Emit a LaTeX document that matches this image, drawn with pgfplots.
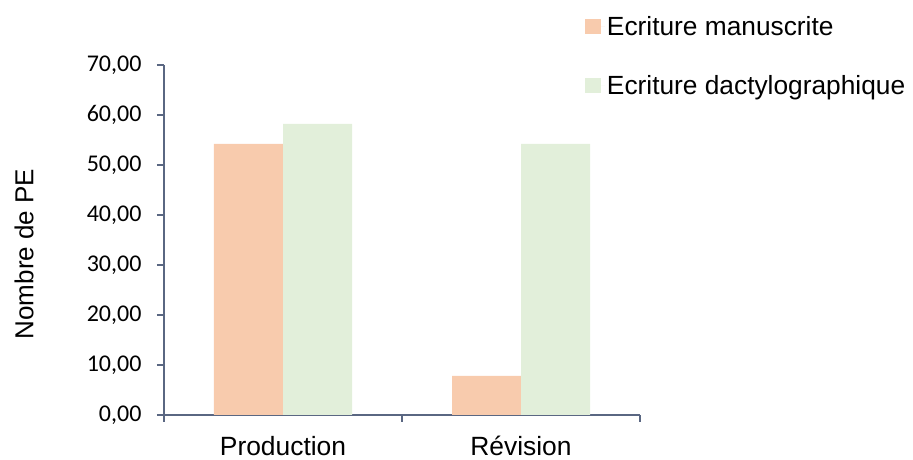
\documentclass[border=0pt]{standalone}
\usepackage{fontspec}
\setmainfont{Liberation Sans}
\newfontfamily\carlito{Carlito}
\usepackage{pgfplots}
\pgfplotsset{compat=1.18}
\definecolor{manu}{HTML}{F8CBAD}
\definecolor{dact}{HTML}{E2EFDA}
\definecolor{axc}{HTML}{5A6782}
\begin{document}
\begin{tikzpicture}[x=1pt,y=1pt]
\path[use as bounding box] (0,0) rectangle (913,460);
\begin{axis}[
  at={(164pt,45pt)}, anchor=south west,
  scale only axis, width=476pt, height=350pt,
  xmin=-0.5, xmax=1.5, ymin=0, ymax=70,
  axis x line*=bottom, axis y line*=left,
  axis line style={draw=axc, line width=1.3pt, -},
  every tick/.style={draw=axc, line width=1.3pt},
  tick align=outside, major tick length=7pt,
  ytick={0,10,...,70},
  xtick={-0.5,0.5,1.5}, xticklabels={},
  extra x ticks={0,1}, extra x tick labels={Production,R\'evision},
  extra x tick style={major tick length=0pt},
  yticklabel style={xshift=-12pt, font=\carlito\fontsize{24}{24}\selectfont, /pgf/number format/.cd, fixed, fixed zerofill, precision=2, use comma, assume math mode=true},
  xticklabel style={yshift=-18pt, font=\fontsize{26.4}{26}\selectfont},
  ylabel={Nombre de PE},
  every axis y label/.style={at={(axis description cs:-0.294,0.46)}, rotate=90, anchor=center, font=\fontsize{26}{26}\selectfont},
  legend style={at={(axis description cs:0.884,1.145)}, anchor=north west, draw=none, fill=none, inner sep=0pt, font=\fontsize{26.3}{26}\selectfont, row sep=34pt, cells={anchor=west}},
  legend image code/.code={\path (0pt,0pt) -- (20pt,0pt); \fill[#1] (0pt,-7.5pt) rectangle (16pt,7.5pt);},
  clip=false,
]
\addplot[ybar, bar width=69pt, bar shift=-34.5pt, fill=manu, draw=none] coordinates {(0,54.2) (1,7.8)};
\addlegendentry{Ecriture manuscrite}
\addplot[ybar, bar width=69pt, bar shift=34.5pt, fill=dact, draw=none] coordinates {(0,58.2) (1,54.2)};
\addlegendentry{Ecriture dactylographique}
\end{axis}
\end{tikzpicture}
\end{document}
